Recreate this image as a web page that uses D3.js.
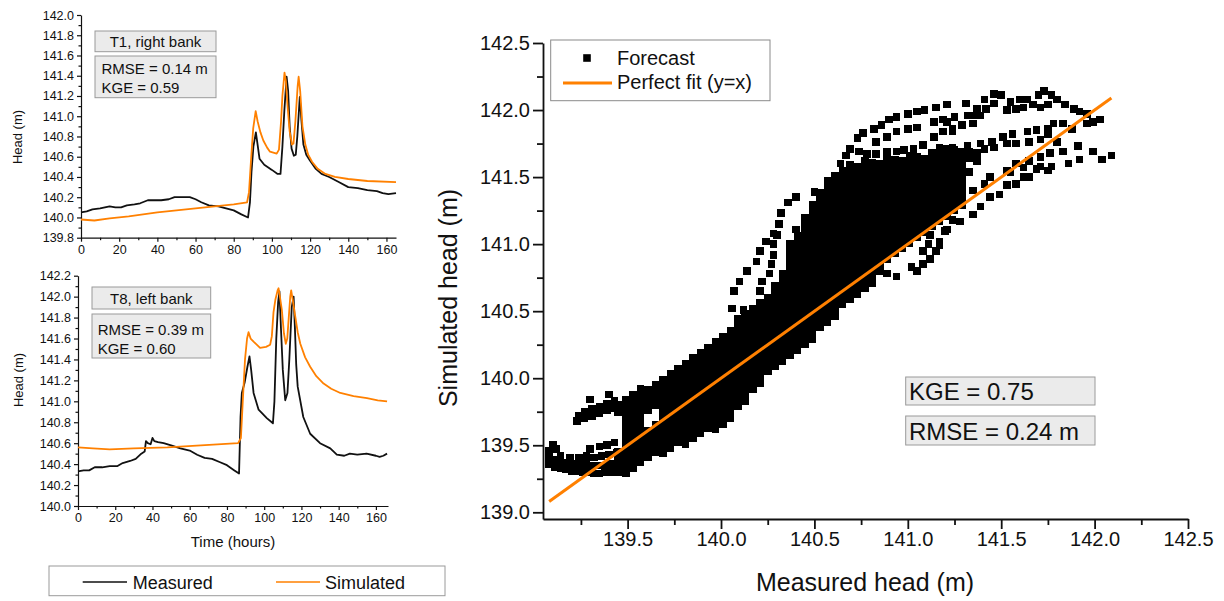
<!DOCTYPE html>
<html>
<head>
<meta charset="utf-8">
<script src="https://cdn.jsdelivr.net/npm/d3@7"></script>
<style>
  body { margin: 0; background: #fff; }
  svg { display: block; }
</style>
</head>
<body>
<div id="vis"></div>
<script>
// ---- time series, T1 right bank: [hour, head] ----
var t1Measured = [[0,140.05],[3,140.06],[6,140.08],[10,140.09],[15,140.11],[18,140.10],[21,140.10],[24,140.12],[28,140.13],[31,140.14],[35,140.17],[38,140.17],[42,140.17],[46,140.18],[49,140.20],[53,140.20],[57,140.20],[60,140.18],[63,140.15],[67,140.12],[72,140.11],[76,140.09],[80,140.07],[84,140.03],[87.5,140.00],[88.5,140.15],[89.3,140.45],[90.3,140.70],[91.6,140.84],[92.5,140.72],[93.5,140.58],[96,140.52],[100,140.47],[103,140.43],[104.5,140.43],[105.5,140.70],[106.5,141.05],[107.7,141.39],[108.5,141.25],[109.3,140.90],[110.3,140.68],[111.5,140.61],[112.5,140.62],[113.3,140.80],[114.6,141.19],[115.5,140.95],[116.5,140.72],[118,140.62],[120,140.56],[123,140.48],[126,140.43],[130,140.40],[135,140.35],[140,140.30],[145,140.29],[150,140.27],[155,140.26],[158,140.24],[161,140.23],[165,140.24]];
var t1Simulated = [[0,139.98],[7,139.97],[15,139.99],[25,140.01],[40,140.05],[60,140.09],[80,140.13],[87,140.15],[88,140.25],[89,140.55],[90.2,140.88],[91.5,141.05],[92.5,140.95],[94,140.84],[95.5,140.76],[97.5,140.69],[99,140.65],[102.5,140.63],[103.7,140.67],[104.8,140.95],[105.5,141.20],[106.6,141.43],[107.3,141.35],[108.2,141.10],[109.3,140.85],[110.5,140.72],[111.3,140.73],[112.3,140.95],[113.5,141.30],[114,141.39],[114.8,141.25],[116,140.90],[117.5,140.72],[119,140.62],[121,140.55],[124,140.48],[128,140.43],[133,140.40],[140,140.38],[150,140.36],[165,140.35]];

// ---- time series, T8 left bank ----
var t8Measured = [[0,140.33],[3,140.34],[6,140.34],[9,140.37],[13,140.37],[17,140.38],[21,140.38],[24,140.41],[28,140.43],[31,140.45],[34,140.50],[35.8,140.52],[36.5,140.62],[37.5,140.60],[39,140.59],[40,140.65],[41,140.62],[43,140.61],[46,140.60],[50,140.58],[55,140.55],[60,140.53],[64,140.49],[68,140.46],[72,140.45],[76,140.42],[80,140.39],[84,140.34],[86.5,140.31],[87.3,140.85],[88,141.08],[89.5,141.18],[91,141.33],[92.1,141.43],[93,141.30],[94.3,141.08],[97,140.92],[101.4,140.84],[104.7,140.79],[105.5,141.00],[106.5,141.60],[107.5,141.95],[108.2,142.05],[109,141.70],[110,141.30],[111.3,141.01],[112.5,141.08],[113.5,141.40],[114.8,141.90],[115.8,142.00],[116.5,141.70],[117.2,141.35],[118,141.14],[121,140.85],[124.7,140.69],[130,140.60],[135.5,140.55],[139,140.49],[143,140.48],[146,140.50],[150,140.49],[155,140.50],[160,140.48],[162,140.47],[164,140.48],[166,140.50]];
var t8Simulated = [[0,140.56],[8,140.55],[17,140.54],[30,140.55],[48,140.56],[66,140.58],[86,140.60],[87.5,140.65],[88.5,141.00],[89.7,141.40],[90.8,141.60],[91.6,141.66],[92.7,141.60],[94.3,141.57],[97.8,141.51],[101,141.52],[103.2,141.54],[104.1,141.62],[105,141.85],[106,141.97],[107.2,142.06],[107.7,142.08],[108.6,141.98],[109.5,141.87],[110.6,141.65],[111.6,141.55],[112.4,141.60],[113.2,141.80],[114,142.00],[114.5,142.06],[115.5,141.95],[116.7,141.81],[118,141.66],[119.4,141.55],[122,141.42],[124.7,141.33],[128,141.24],[131.9,141.17],[136,141.12],[140.9,141.08],[148,141.05],[155.2,141.03],[161,141.01],[166,141.00]];

var t1Stats = ["RMSE = 0.14 m", "KGE = 0.59"];
var t8Stats = ["RMSE = 0.39 m", "KGE = 0.60"];

// ---- scatter: [measured, simulated] ----
var forecastLowLeft = [[139.08,139.36],[139.08,139.41],[139.08,139.46],[139.10,139.50],[139.12,139.47],
[139.11,139.34],[139.14,139.33],[139.17,139.32],[139.20,139.31],[139.23,139.31],[139.26,139.30],[139.29,139.30],[139.32,139.29],[139.35,139.29],[139.38,139.30],[139.41,139.30],[139.44,139.31],[139.47,139.31],
[139.12,139.39],[139.16,139.37],[139.20,139.36],[139.24,139.36],[139.28,139.36],[139.32,139.35],[139.36,139.35],[139.40,139.36],[139.44,139.36],
[139.14,139.42],[139.19,139.41],[139.24,139.41],[139.28,139.42],[139.32,139.41],[139.36,139.42],[139.40,139.43],[139.44,139.44],
[139.30,139.47],[139.35,139.49],[139.39,139.50],[139.43,139.52],
[139.23,139.68],[139.24,139.72],[139.27,139.75],[139.31,139.77],[139.35,139.79],[139.39,139.81],[139.43,139.83],
[139.27,139.70],[139.31,139.72],[139.35,139.74],[139.39,139.76],[139.43,139.78],
[139.30,139.84],[139.40,139.88]];

var forecastCore = [
[139.97,139.62],[140.01,139.66],[140.05,139.70],
[139.81,139.51],[139.85,139.55],[139.89,139.59],[139.93,139.63],[139.97,139.67],[140.01,139.71],[140.05,139.75],[140.09,139.79],[140.13,139.83],
[139.69,139.44],[139.73,139.48],[139.77,139.52],[139.81,139.56],[139.85,139.60],[139.89,139.64],[139.93,139.68],[139.97,139.72],[140.01,139.76],[140.05,139.80],[140.09,139.84],[140.13,139.88],[140.17,139.92],[140.21,139.96],
[139.49,139.29],[139.53,139.33],[139.57,139.37],[139.61,139.41],[139.65,139.45],[139.69,139.49],[139.73,139.53],[139.77,139.57],[139.81,139.61],[139.85,139.65],[139.89,139.69],[139.93,139.73],[139.97,139.77],[140.01,139.81],[140.05,139.85],[140.09,139.89],[140.13,139.93],[140.17,139.97],[140.21,140.01],[140.25,140.05],[140.29,140.09],[140.33,140.13],[140.37,140.17],[140.41,140.21],[140.45,140.25],[140.49,140.29],
[139.45,139.30],[139.49,139.34],[139.53,139.38],[139.57,139.42],[139.61,139.46],[139.65,139.50],[139.69,139.54],[139.73,139.58],[139.77,139.62],[139.81,139.66],[139.85,139.70],[139.89,139.74],[139.93,139.78],[139.97,139.82],[140.01,139.86],[140.05,139.90],[140.09,139.94],[140.13,139.98],[140.17,140.02],[140.21,140.06],[140.25,140.10],[140.29,140.14],[140.33,140.18],[140.37,140.22],[140.41,140.26],[140.45,140.30],[140.49,140.34],[140.53,140.38],[140.57,140.42],[140.61,140.46],
[139.45,139.35],[139.49,139.39],[139.53,139.43],[139.57,139.47],[139.61,139.51],[139.65,139.55],[139.69,139.59],[139.73,139.63],[139.77,139.67],[139.81,139.71],[139.85,139.75],[139.89,139.79],[139.93,139.83],[139.97,139.87],[140.01,139.91],[140.05,139.95],[140.09,139.99],[140.13,140.03],[140.17,140.07],[140.21,140.11],[140.25,140.15],[140.29,140.19],[140.33,140.23],[140.37,140.27],[140.41,140.31],[140.45,140.35],[140.49,140.39],[140.53,140.43],[140.57,140.47],[140.61,140.51],[140.65,140.55],[140.69,140.59],[140.73,140.63],[140.77,140.67],[140.81,140.71],
[139.45,139.40],[139.49,139.44],[139.53,139.48],[139.57,139.52],[139.61,139.56],[139.65,139.60],[139.69,139.64],[139.73,139.68],[139.77,139.72],[139.81,139.76],[139.85,139.80],[139.89,139.84],[139.93,139.88],[139.97,139.92],[140.01,139.96],[140.05,140.00],[140.09,140.04],[140.13,140.08],[140.17,140.12],[140.21,140.16],[140.25,140.20],[140.29,140.24],[140.33,140.28],[140.37,140.32],[140.41,140.36],[140.45,140.40],[140.49,140.44],[140.53,140.48],[140.57,140.52],[140.61,140.56],[140.65,140.60],[140.69,140.64],[140.73,140.68],[140.77,140.72],[140.81,140.76],[140.85,140.80],
[139.45,139.45],[139.49,139.49],[139.53,139.53],[139.57,139.57],[139.61,139.61],[139.65,139.65],[139.69,139.69],[139.73,139.73],[139.77,139.77],[139.81,139.81],[139.85,139.85],[139.89,139.89],[139.93,139.93],[139.97,139.97],[140.01,140.01],[140.05,140.05],[140.09,140.09],[140.13,140.13],[140.17,140.17],[140.21,140.21],[140.25,140.25],[140.29,140.29],[140.33,140.33],[140.37,140.37],[140.41,140.41],[140.45,140.45],[140.49,140.49],[140.53,140.53],[140.57,140.57],[140.61,140.61],[140.65,140.65],[140.69,140.69],[140.73,140.73],[140.77,140.77],[140.81,140.81],[140.85,140.85],[140.89,140.89],[140.93,140.93],[140.97,140.97],[141.01,141.01],[141.05,141.05],[141.09,141.09],[141.13,141.13],[141.17,141.17],[141.21,141.21],[141.25,141.25],[141.29,141.29],
[139.49,139.54],[139.53,139.58],[139.57,139.62],[139.69,139.74],[139.73,139.78],[139.77,139.82],[139.81,139.86],[139.85,139.90],[139.89,139.94],[139.93,139.98],[139.97,140.02],[140.01,140.06],[140.05,140.10],[140.09,140.14],[140.13,140.18],[140.17,140.22],[140.21,140.26],[140.25,140.30],[140.29,140.34],[140.33,140.38],[140.37,140.42],[140.41,140.46],[140.45,140.50],[140.49,140.54],[140.53,140.58],[140.57,140.62],[140.61,140.66],[140.65,140.70],[140.69,140.74],[140.73,140.78],[140.77,140.82],[140.81,140.86],[140.85,140.90],[140.89,140.94],[140.93,140.98],[140.97,141.02],[141.01,141.06],[141.05,141.10],[141.09,141.14],[141.13,141.18],[141.17,141.22],[141.21,141.26],[141.25,141.30],[141.29,141.34],
[139.49,139.59],[139.53,139.63],[139.57,139.67],[139.69,139.79],[139.73,139.83],[139.77,139.87],[139.81,139.91],[139.85,139.95],[139.89,139.99],[139.93,140.03],[139.97,140.07],[140.01,140.11],[140.05,140.15],[140.09,140.19],[140.13,140.23],[140.17,140.27],[140.21,140.31],[140.25,140.35],[140.29,140.39],[140.33,140.43],[140.37,140.47],[140.41,140.51],[140.45,140.55],[140.49,140.59],[140.53,140.63],[140.57,140.67],[140.61,140.71],[140.65,140.75],[140.69,140.79],[140.73,140.83],[140.77,140.87],[140.81,140.91],[140.85,140.95],[140.89,140.99],[140.93,141.03],[140.97,141.07],[141.01,141.11],[141.05,141.15],[141.09,141.19],[141.13,141.23],[141.17,141.27],[141.21,141.31],[141.25,141.35],[141.29,141.39],
[139.49,139.64],[139.53,139.68],[139.57,139.72],[139.61,139.76],[139.65,139.80],[139.69,139.84],[139.73,139.88],[139.77,139.92],[139.81,139.96],[139.85,140.00],[139.89,140.04],[139.93,140.08],[139.97,140.12],[140.01,140.16],[140.05,140.20],[140.09,140.24],[140.13,140.28],[140.17,140.32],[140.21,140.36],[140.25,140.40],[140.29,140.44],[140.33,140.48],[140.37,140.52],[140.41,140.56],[140.45,140.60],[140.49,140.64],[140.53,140.68],[140.57,140.72],[140.61,140.76],[140.65,140.80],[140.69,140.84],[140.73,140.88],[140.77,140.92],[140.81,140.96],[140.85,141.00],[140.89,141.04],[140.93,141.08],[140.97,141.12],[141.01,141.16],[141.05,141.20],[141.09,141.24],[141.13,141.28],[141.17,141.32],[141.21,141.36],[141.25,141.40],[141.29,141.44],
[139.49,139.69],[139.53,139.73],[139.57,139.77],[139.61,139.81],[139.65,139.85],[139.69,139.89],[139.73,139.93],[139.77,139.97],[139.81,140.01],[139.85,140.05],[139.89,140.09],[139.93,140.13],[139.97,140.17],[140.01,140.21],[140.05,140.25],[140.09,140.29],[140.13,140.33],[140.17,140.37],[140.21,140.41],[140.25,140.45],[140.29,140.49],[140.33,140.53],[140.37,140.57],[140.41,140.61],[140.45,140.65],[140.49,140.69],[140.53,140.73],[140.57,140.77],[140.61,140.81],[140.65,140.85],[140.69,140.89],[140.73,140.93],[140.77,140.97],[140.81,141.01],[140.85,141.05],[140.89,141.09],[140.93,141.13],[140.97,141.17],[141.01,141.21],[141.05,141.25],[141.09,141.29],[141.13,141.33],[141.17,141.37],[141.21,141.41],[141.25,141.45],[141.29,141.49],
[139.49,139.74],[139.53,139.78],[139.57,139.82],[139.61,139.86],[139.65,139.90],[139.69,139.94],[139.73,139.98],[139.77,140.02],[139.81,140.06],[139.85,140.10],[139.89,140.14],[139.93,140.18],[139.97,140.22],[140.01,140.26],[140.05,140.30],[140.09,140.34],[140.13,140.38],[140.17,140.42],[140.21,140.46],[140.25,140.50],[140.29,140.54],[140.33,140.58],[140.37,140.62],[140.41,140.66],[140.45,140.70],[140.49,140.74],[140.53,140.78],[140.57,140.82],[140.61,140.86],[140.65,140.90],[140.69,140.94],[140.73,140.98],[140.77,141.02],[140.81,141.06],[140.85,141.10],[140.89,141.14],[140.93,141.18],[140.97,141.22],[141.01,141.26],[141.05,141.30],[141.09,141.34],[141.13,141.38],[141.17,141.42],[141.21,141.46],[141.25,141.50],[141.29,141.54],
[139.45,139.75],[139.49,139.79],[139.53,139.83],[139.57,139.87],[139.61,139.91],[139.65,139.95],[139.69,139.99],[139.73,140.03],[139.77,140.07],[139.81,140.11],[139.85,140.15],[139.89,140.19],[139.93,140.23],[139.97,140.27],[140.01,140.31],[140.05,140.35],[140.09,140.39],[140.13,140.43],[140.17,140.47],[140.21,140.51],[140.25,140.55],[140.29,140.59],[140.33,140.63],[140.37,140.67],[140.41,140.71],[140.45,140.75],[140.49,140.79],[140.53,140.83],[140.57,140.87],[140.61,140.91],[140.65,140.95],[140.69,140.99],[140.73,141.03],[140.77,141.07],[140.81,141.11],[140.85,141.15],[140.89,141.19],[140.93,141.23],[140.97,141.27],[141.01,141.31],[141.05,141.35],[141.09,141.39],[141.13,141.43],[141.17,141.47],[141.21,141.51],[141.25,141.55],[141.29,141.59],
[139.45,139.80],[139.49,139.84],[139.53,139.88],[139.57,139.92],[140.09,140.44],[140.13,140.48],[140.17,140.52],[140.21,140.56],[140.25,140.60],[140.29,140.64],[140.33,140.68],[140.37,140.72],[140.41,140.76],[140.45,140.80],[140.49,140.84],[140.53,140.88],[140.57,140.92],[140.61,140.96],[140.65,141.00],[140.69,141.04],[140.73,141.08],[140.77,141.12],[140.81,141.16],[140.85,141.20],[140.89,141.24],[140.93,141.28],[140.97,141.32],[141.01,141.36],[141.05,141.40],[141.09,141.44],[141.13,141.48],[141.17,141.52],[141.21,141.56],[141.25,141.60],[141.29,141.64],
[140.29,140.69],[140.33,140.73],[140.37,140.77],[140.41,140.81],[140.45,140.85],[140.49,140.89],[140.53,140.93],[140.57,140.97],[140.61,141.01],[140.65,141.05],[140.69,141.09],[140.73,141.13],[140.77,141.17],[140.81,141.21],[140.85,141.25],[140.89,141.29],[140.93,141.33],[140.97,141.37],[141.01,141.41],[141.05,141.45],[141.09,141.49],[141.13,141.53],[141.17,141.57],[141.21,141.61],[141.25,141.65],[141.29,141.69],
[140.33,140.78],[140.37,140.82],[140.41,140.86],[140.45,140.90],[140.49,140.94],[140.53,140.98],[140.57,141.02],[140.61,141.06],[140.65,141.10],[140.69,141.14],[140.73,141.18],[140.77,141.22],[140.81,141.26],[140.85,141.30],[140.89,141.34],[140.93,141.38],[140.97,141.42],[141.01,141.46],[141.05,141.50],[141.09,141.54],[141.13,141.58],[141.17,141.62],[141.21,141.66],[141.25,141.70],
[140.37,140.87],[140.41,140.91],[140.45,140.95],[140.49,140.99],[140.53,141.03],[140.57,141.07],[140.61,141.11],[140.65,141.15],[140.69,141.19],[140.73,141.23],[140.77,141.27],[140.81,141.31],[140.85,141.35],[140.89,141.39],[140.93,141.43],[140.97,141.47],[141.01,141.51],[141.05,141.55],[141.09,141.59],[141.13,141.63],[141.17,141.67],[141.21,141.71],
[140.37,140.92],[140.41,140.96],[140.45,141.00],[140.49,141.04],[140.53,141.08],[140.57,141.12],[140.61,141.16],[140.65,141.20],[140.69,141.24],[140.73,141.28],[140.77,141.32],[140.81,141.36],[140.85,141.40],[140.89,141.44],[140.93,141.48],[140.97,141.52],[141.01,141.56],[141.05,141.60],[141.09,141.64],[141.13,141.68],
[140.37,140.97],[140.41,141.01],[140.45,141.05],[140.49,141.09],[140.53,141.13],[140.57,141.17],[140.61,141.21],[140.65,141.25],[140.69,141.29],[140.73,141.33],[140.77,141.37],[140.81,141.41],[140.85,141.45],[140.89,141.49],[140.93,141.53],[140.97,141.57],[141.01,141.61],[141.05,141.65],
[140.41,141.06],[140.45,141.10],[140.49,141.14],[140.53,141.18],[140.57,141.22],[140.61,141.26],[140.65,141.30],[140.69,141.34],[140.73,141.38],[140.77,141.42],[140.81,141.46],[140.85,141.50],[140.89,141.54],[140.93,141.58],[140.97,141.62],[141.01,141.66],
[140.45,141.15],[140.49,141.19],[140.53,141.23],[140.57,141.27],[140.61,141.31],[140.65,141.35],[140.69,141.39],[140.73,141.43],[140.77,141.47],[140.81,141.51],[140.85,141.55],[140.89,141.59],[140.93,141.63],
[140.45,141.20],[140.49,141.24],[140.53,141.28],[140.57,141.32],[140.61,141.36],[140.65,141.40],[140.69,141.44],[140.73,141.48],[140.77,141.52],[140.81,141.56],[140.85,141.60],[140.89,141.64],
[140.49,141.29],[140.53,141.33],[140.57,141.37],[140.61,141.41],[140.65,141.45],[140.69,141.49],[140.73,141.53],[140.77,141.57],[140.81,141.61],
[140.53,141.38],[140.57,141.42],[140.61,141.46],[140.65,141.50],[140.69,141.54],[140.73,141.58],[140.77,141.62],
[140.57,141.47],[140.61,141.51],[140.65,141.55],[140.69,141.59],
[141.33,141.54],[141.37,141.62],[141.37,141.68],[141.33,141.64]];

var forecastRising = [[140.06,140.52],[140.12,140.51],
[140.07,140.65],[140.10,140.72],[140.14,140.80],[140.19,140.87],[140.21,140.95],[140.24,141.02],[140.28,141.08],[140.31,141.15],[140.32,141.23],[140.36,141.31],[140.40,141.35],
[140.21,140.65],[140.22,140.72],[140.26,140.78],[140.27,140.85],[140.28,140.92],[140.28,141.00],[140.30,141.07],
[140.34,140.78],[140.37,140.86],[140.38,140.93],[140.37,141.00],[140.40,141.11],
[140.50,141.39],[140.64,141.60],[140.67,141.66]];

var forecastLoops = [[140.69,141.71],[140.73,141.79],[140.76,141.83],[140.82,141.86],[140.86,141.89],[140.90,141.93],[140.94,141.95],[141.00,141.97],[141.05,141.99],[141.09,142.00],[141.15,142.02],[141.21,142.04],[141.31,142.05],[141.41,142.08],[141.46,142.12],[141.50,142.11],[141.55,142.06],[141.60,142.08],[141.64,142.08],[141.70,142.11],[141.73,142.14],[141.77,142.11],[141.80,142.08],[141.84,142.04],[141.89,142.01],[141.92,141.99],[141.96,141.97],[141.99,141.91],[142.03,141.93],[141.96,141.90],
[140.74,141.69],[140.78,141.67],[140.83,141.76],[140.89,141.80],[140.94,141.84],[141.00,141.86],[141.05,141.87],[141.14,141.91],[141.19,141.93],[141.21,141.91],[141.25,141.95],[141.32,141.96],[141.35,141.96],[141.39,141.96],[141.37,142.01],[141.42,142.01],[141.46,142.05],[141.53,142.00],[141.58,142.01],[141.62,142.02],[141.67,142.04],[141.71,142.02],[141.75,142.04],[141.24,141.84],[141.29,141.89],[141.35,141.90],
[140.83,141.67],[140.89,141.69],[140.94,141.69],[140.98,141.70],[141.03,141.71],[141.08,141.74],[141.14,141.80],[141.19,141.84],[141.24,141.86],
[141.17,141.72],[141.24,141.72],[141.33,141.69],[141.32,141.73],[141.39,141.75],[141.45,141.76],[141.51,141.80],[141.56,141.82],[141.64,141.84],[141.69,141.85],[141.75,141.86],[141.78,141.90],[141.83,141.90],[141.88,141.86],
[141.41,141.71],[141.46,141.72],[141.53,141.75],[141.58,141.75],[141.65,141.76],[141.71,141.78],[141.75,141.82],[141.80,141.76],[141.83,141.69],[141.86,141.60],[141.91,141.73],[141.92,141.63],[141.99,141.69],[142.04,141.63],[142.09,141.66]];

var forecastLowRight = [[141.28,141.17],[141.35,141.22],[141.39,141.28],[141.44,141.35],[141.49,141.37],[141.53,141.44],[141.58,141.45],[141.62,141.50],[141.65,141.50],[141.69,141.56],[141.75,141.55],[141.77,141.58],[141.55,141.54],[141.62,141.57],[141.71,141.58],
[141.35,141.40],[141.41,141.45],[141.44,141.50],[141.53,141.55],[141.58,141.60],[141.65,141.62],[141.71,141.65],[141.76,141.68],
[141.24,141.18],[141.21,141.11],[141.17,140.99],
[140.89,140.78],[140.94,140.76],[141.02,140.83],[141.05,140.80],[141.08,140.85],[141.12,140.89],[141.15,140.95],[141.17,141.02],[141.20,141.10],
[141.08,140.95],[141.11,141.00],[141.12,141.07]];

var perfectFit = [[139.08,139.08],[142.09,142.09]];
var fitStats = ["KGE = 0.75", "RMSE = 0.24 m"];

// ---- ticks ----
var t1HeadTicks = [139.8,140.0,140.2,140.4,140.6,140.8,141.0,141.2,141.4,141.6,141.8,142.0];
var t1HeadMinor = [139.9,140.1,140.3,140.5,140.7,140.9,141.1,141.3,141.5,141.7,141.9];
var t8HeadTicks = [140.0,140.2,140.4,140.6,140.8,141.0,141.2,141.4,141.6,141.8,142.0,142.2];
var t8HeadMinor = [140.1,140.3,140.5,140.7,140.9,141.1,141.3,141.5,141.7,141.9,142.1];
var hourTicks = [0,20,40,60,80,100,120,140,160];
var hourMinor = [10,30,50,70,90,110,130,150];
var scatTicks = [139.5,140.0,140.5,141.0,141.5,142.0,142.5];
var scatTicksY = [139.0,139.5,140.0,140.5,141.0,141.5,142.0,142.5];
var scatMinor = [139.25,139.75,140.25,140.75,141.25,141.75,142.25];

var FONT = '"Liberation Sans", Arial, Helvetica, sans-serif';
var ORANGE = "#ff8000";

var svg = d3.select("#vis").append("svg")
  .attr("width", 1224)
  .attr("height", 601)
  .attr("font-family", FONT);

// axis helper: major + minor ticks, outward
function drawAxes(o, x, y) {
  var fmtY = d3.format(o.yFmt);
  var gy = svg.append("g").attr("transform", "translate(" + o.left + ",0)")
    .call(d3.axisLeft(y).tickValues(o.yTicks).tickFormat(fmtY).tickSize(o.tick).tickSizeOuter(0).tickPadding(o.pad));
  var gym = svg.append("g").attr("transform", "translate(" + o.left + ",0)")
    .call(d3.axisLeft(y).tickValues(o.yMinor).tickFormat("").tickSize(o.minor));
  gym.select(".domain").remove();

  var gx = svg.append("g").attr("transform", "translate(0," + o.bottom + ")")
    .call(d3.axisBottom(x).tickValues(o.xTicks).tickFormat(d3.format(o.xFmt)).tickSize(o.tick).tickSizeOuter(0).tickPadding(o.pad));
  var gxm = svg.append("g").attr("transform", "translate(0," + o.bottom + ")")
    .call(d3.axisBottom(x).tickValues(o.xMinor).tickFormat("").tickSize(o.minor));
  gxm.select(".domain").remove();

  [gy, gym, gx, gxm].forEach(function(g) {
    g.attr("font-family", FONT).attr("font-size", o.fs);
    g.selectAll("path, line").attr("stroke", "#111").attr("stroke-width", o.sw);
    g.selectAll("text").attr("fill", "#111");
  });
}

function statBox(x0, y0, w, h, lines, fs, tx, baselines, anchor) {
  svg.append("rect").attr("x", x0).attr("y", y0).attr("width", w).attr("height", h)
    .attr("fill", "#ebebeb").attr("stroke", "#9a9a9a").attr("stroke-width", 1);
  lines.forEach(function(s, i) {
    svg.append("text").attr("x", tx).attr("y", baselines[i])
      .attr("font-size", fs).attr("text-anchor", anchor || "start").attr("fill", "#111").text(s);
  });
}

function seriesPanel(o) {
  var x = d3.scaleLinear().domain(o.xDomain).range([o.left, o.right]);
  var y = d3.scaleLinear().domain(o.yDomain).range([o.bottom, o.top]);
  drawAxes(o, x, y);
  var line = d3.line().x(function(d) { return x(d[0]); }).y(function(d) { return y(d[1]); });
  svg.append("path").datum(o.measured).attr("d", line)
    .attr("fill", "none").attr("stroke", "#111").attr("stroke-width", 1.8).attr("stroke-linejoin", "round");
  svg.append("path").datum(o.simulated).attr("d", line)
    .attr("fill", "none").attr("stroke", ORANGE).attr("stroke-width", 1.8).attr("stroke-linejoin", "round");
  svg.append("text").attr("transform", "translate(" + o.yTitleX + "," + o.yTitleY + ") rotate(-90)")
    .attr("text-anchor", "middle").attr("font-size", 13).attr("fill", "#111").text("Head (m)");
}

// top-left: T1
seriesPanel({
  left: 81, right: 396, top: 15, bottom: 237.7,
  xDomain: [0, 165], yDomain: [139.8, 142.0],
  yTicks: t1HeadTicks, yMinor: t1HeadMinor, xTicks: hourTicks, xMinor: hourMinor,
  yFmt: ".1f", xFmt: "d", tick: 4, minor: 2.5, pad: 3, fs: 12.5, sw: 1.2,
  measured: t1Measured, simulated: t1Simulated, yTitleX: 22, yTitleY: 137
});
statBox(95, 31, 121, 20.7, ["T1, right bank"], 15, 155.5, [46.5], "middle");
statBox(95, 56, 121, 41.7, t1Stats, 15, 101.5, [74, 93]);

// bottom-left: T8
seriesPanel({
  left: 78, right: 388, top: 275.7, bottom: 506,
  xDomain: [0, 166.5], yDomain: [140.0, 142.2],
  yTicks: t8HeadTicks, yMinor: t8HeadMinor, xTicks: hourTicks, xMinor: hourMinor,
  yFmt: ".1f", xFmt: "d", tick: 4, minor: 2.5, pad: 3, fs: 12.5, sw: 1.2,
  measured: t8Measured, simulated: t8Simulated, yTitleX: 23, yTitleY: 380
});
statBox(92, 287, 118.7, 22, ["T8, left bank"], 15, 151.3, [303.5], "middle");
statBox(92, 314, 118.7, 44, t8Stats, 15, 97.7, [335, 353.5]);
svg.append("text").attr("x", 233).attr("y", 547).attr("text-anchor", "middle")
  .attr("font-size", 15).attr("fill", "#111").text("Time (hours)");

// bottom legend
svg.append("rect").attr("x", 49).attr("y", 566).attr("width", 396).attr("height", 29.7)
  .attr("fill", "#fff").attr("stroke", "#9a9a9a").attr("stroke-width", 1);
svg.append("line").attr("x1", 82.7).attr("x2", 127).attr("y1", 582).attr("y2", 582)
  .attr("stroke", "#111").attr("stroke-width", 1.6);
svg.append("text").attr("x", 132.7).attr("y", 588.5).attr("font-size", 18).attr("fill", "#111").text("Measured");
svg.append("line").attr("x1", 276).attr("x2", 320).attr("y1", 582).attr("y2", 582)
  .attr("stroke", ORANGE).attr("stroke-width", 1.6);
svg.append("text").attr("x", 325).attr("y", 588.5).attr("font-size", 18).attr("fill", "#111").text("Simulated");

// right: scatter
var sx = d3.scaleLinear().domain([139.047, 142.5]).range([543, 1188]);
var sy = d3.scaleLinear().domain([138.95, 142.5]).range([519, 43]);
drawAxes({
  left: 543, bottom: 519, yTicks: scatTicksY, yMinor: scatMinor, xTicks: scatTicks, xMinor: scatMinor,
  yFmt: ".1f", xFmt: ".1f", tick: 10, minor: 6, pad: 3, fs: 20, sw: 1.8
}, sx, sy);

var pts = [].concat(forecastLowLeft, forecastCore, forecastRising, forecastLoops, forecastLowRight);
var M = 7.6;
svg.append("g").attr("shape-rendering", "crispEdges")
  .selectAll("rect").data(pts).enter().append("rect")
  .attr("x", function(d) { return sx(d[0]) - M / 2; })
  .attr("y", function(d) { return sy(d[1]) - M / 2; })
  .attr("width", M).attr("height", M)
  .attr("fill", "#000");

svg.append("path").datum(perfectFit)
  .attr("d", d3.line().x(function(d) { return sx(d[0]); }).y(function(d) { return sy(d[1]); }))
  .attr("stroke", ORANGE).attr("stroke-width", 3).attr("fill", "none");

svg.append("text").attr("transform", "translate(457,298) rotate(-90)")
  .attr("text-anchor", "middle").attr("font-size", 25).attr("fill", "#111").text("Simulated head (m)");
svg.append("text").attr("x", 865).attr("y", 591)
  .attr("text-anchor", "middle").attr("font-size", 25).attr("fill", "#111").text("Measured head (m)");

// legend box top
svg.append("rect").attr("x", 550.7).attr("y", 40).attr("width", 219.3).attr("height", 60.7)
  .attr("fill", "#fff").attr("stroke", "#8a8a8a").attr("stroke-width", 1);
svg.append("rect").attr("x", 587 - M / 2).attr("y", 58 - M / 2).attr("width", M).attr("height", M).attr("fill", "#000");
svg.append("text").attr("x", 617).attr("y", 65).attr("font-size", 20).attr("fill", "#111").text("Forecast");
svg.append("line").attr("x1", 563).attr("x2", 612).attr("y1", 83).attr("y2", 83)
  .attr("stroke", ORANGE).attr("stroke-width", 3);
svg.append("text").attr("x", 617).attr("y", 89).attr("font-size", 20).attr("fill", "#111").text("Perfect fit (y=x)");

// stat boxes right
statBox(905.7, 377, 189.3, 28, [fitStats[0]], 24, 909, [400]);
statBox(905.7, 416, 189.3, 29, [fitStats[1]], 24, 909, [439.5]);
</script>
</body>
</html>
